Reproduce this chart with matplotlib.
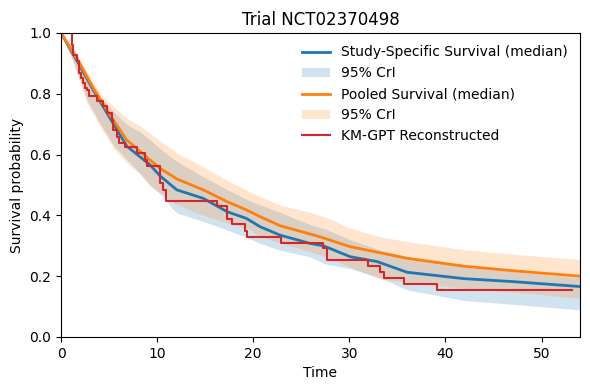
import matplotlib
matplotlib.use("Agg")
import matplotlib.pyplot as plt

# Study-specific (blue) median survival
blue_t = [0, 1.6, 3.4, 5.1, 6.84, 9.27, 10.3, 12.05, 14.8, 17.3, 19.3, 20.7, 22.8,
          25.9, 27.3, 30.1, 32.9, 36.0, 41.9, 47.1, 54]
blue_med = [1.0, 0.912, 0.81, 0.72, 0.628, 0.566, 0.53, 0.484, 0.456, 0.412, 0.39, 0.363,
            0.335, 0.308, 0.300, 0.264, 0.248, 0.213, 0.192, 0.182, 0.166]

# Pooled (orange) median survival
orange_t = [0, 1.63, 3.37, 5.1, 6.84, 9.27, 10.3, 12.05, 14.8, 17.3, 19.3, 20.7, 22.8,
            25.9, 27.0, 30.1, 36.0, 41.9, 47.0, 54]
orange_med = [1.0, 0.917, 0.818, 0.73, 0.648, 0.582, 0.555, 0.52, 0.484, 0.445, 0.418,
              0.396, 0.366, 0.339, 0.329, 0.297, 0.259, 0.233, 0.218, 0.200]

# Credible interval bands
band_t = [0, 1.3, 2.7, 4.1, 5.5, 6.8, 8.2, 9.3, 10.5, 11.5, 12.1, 14.8, 17.3, 19.5,
          20.7, 22.8, 25.9, 27.5, 30.1, 33.2, 36.0, 42.0, 48.0, 54.0]
orange_hi = [1.0, 0.95, 0.875, 0.80, 0.757, 0.72, 0.695, 0.670, 0.64, 0.62, 0.604, 0.560,
             0.515, 0.48, 0.462, 0.434, 0.41, 0.395, 0.358, 0.33, 0.314, 0.287, 0.27, 0.255]
orange_lo = [1.0, 0.90, 0.77, 0.69, 0.62, 0.575, 0.535, 0.494, 0.47, 0.445, 0.435, 0.40,
             0.375, 0.355, 0.33, 0.31, 0.28, 0.265, 0.23, 0.19, 0.18, 0.16, 0.145, 0.127]
blue_hi = [1.0, 0.945, 0.865, 0.79, 0.74, 0.70, 0.675, 0.648, 0.615, 0.59, 0.577, 0.527,
           0.485, 0.45, 0.435, 0.41, 0.37, 0.355, 0.32, 0.286, 0.265, 0.23, 0.212, 0.195]
blue_lo = [1.0, 0.905, 0.78, 0.70, 0.63, 0.585, 0.54, 0.50, 0.465, 0.425, 0.407, 0.38,
           0.352, 0.325, 0.308, 0.285, 0.264, 0.24, 0.225, 0.195, 0.155, 0.12, 0.105, 0.089]

# KM-GPT reconstructed step curve
km_t = [0, 1.15, 1.28, 1.70, 1.91, 2.05, 2.26, 2.47, 2.67, 2.95, 3.78, 4.34, 4.76, 5.28,
        5.45, 5.80, 6.08, 6.63, 7.88, 8.75, 8.99, 10.31, 10.66, 10.94, 16.2, 17.26, 17.78,
        19.1, 19.4, 22.9, 27.3, 27.7, 31.9, 33.2, 33.6, 35.7, 39.1, 53.2]
km_s = [1.0, 0.961, 0.928, 0.909, 0.869, 0.851, 0.834, 0.818, 0.812, 0.794, 0.777, 0.760,
        0.738, 0.714, 0.681, 0.659, 0.639, 0.624, 0.604, 0.582, 0.5625, 0.5055, 0.484, 0.447,
        0.430, 0.389, 0.371, 0.350, 0.330, 0.310, 0.292, 0.253, 0.234, 0.215, 0.193, 0.174,
        0.155, 0.155]

fig, ax = plt.subplots(figsize=(5.9, 3.9), dpi=100)
fig.subplots_adjust(left=0.1034, right=0.983, top=0.9154, bottom=0.1359)

l1, = ax.plot(blue_t, blue_med, color="#1f77b4", lw=2, label="Study-Specific Survival (median)")
f1 = ax.fill_between(band_t, blue_lo, blue_hi, color="#1f77b4", alpha=0.2, lw=0, label="95% CrI")
l2, = ax.plot(orange_t, orange_med, color="#ff7f0e", lw=2, label="Pooled Survival (median)")
f2 = ax.fill_between(band_t, orange_lo, orange_hi, color="#ff7f0e", alpha=0.2, lw=0, label="95% CrI")
l3, = ax.step(km_t, km_s, where="post", color="#d62728", lw=1.5, label="KM-GPT Reconstructed")

ax.set_xlim(0, 54)
ax.set_ylim(0, 1.0)
ax.set_xlabel("Time")
ax.set_ylabel("Survival probability")
ax.set_title("Trial NCT02370498")
ax.legend(handles=[l1, f1, l2, f2, l3], loc="upper right", frameon=False)

fig.savefig("out.png", dpi=100)
